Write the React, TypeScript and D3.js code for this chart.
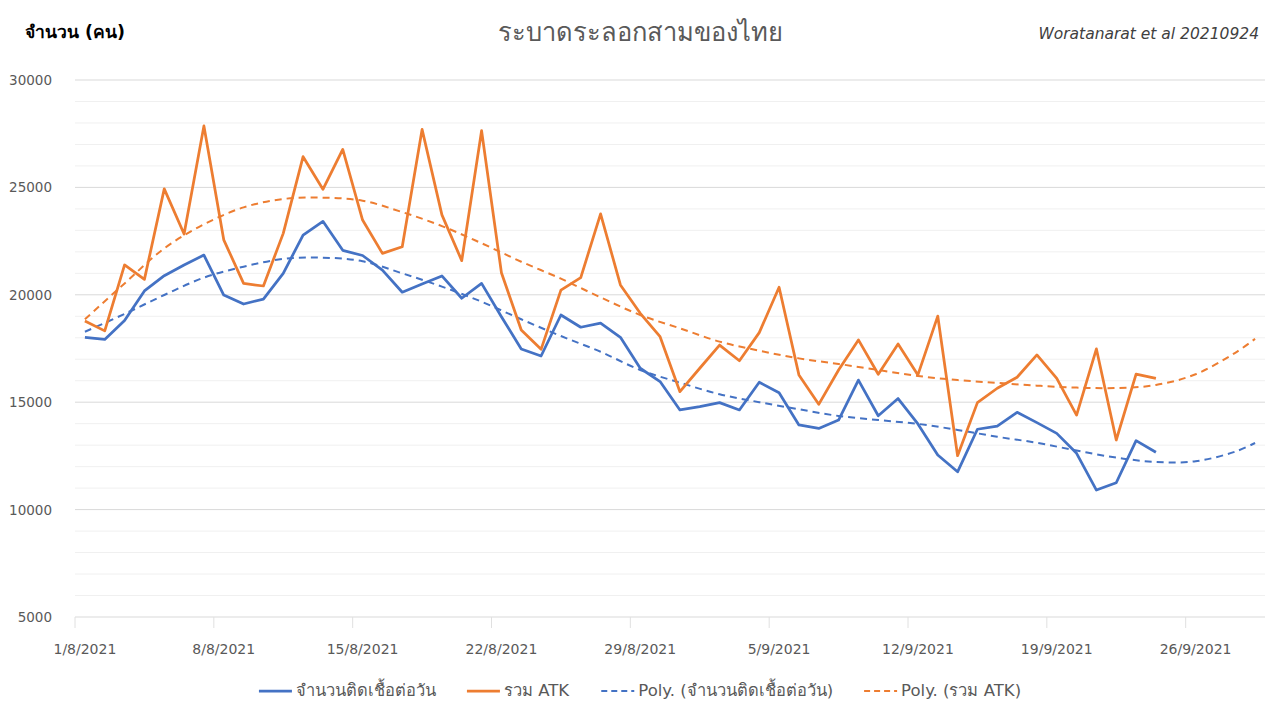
import { useEffect, useRef } from 'react';
import * as d3 from 'd3';

// days since 1/8/2021, daily from 1/8 to 24/9
const infected = [
  18020, 17920, 18800, 20180, 20890, 21390, 21850, 19990, 19570, 19800,
  21000, 22780, 23420, 22070, 21830, 21150, 20120, 20500, 20880, 19840,
  20530, 18980, 17480, 17150, 19060, 18490, 18680, 18020, 16580, 15960,
  14640, 14790, 14980, 14640, 15930, 15440, 13940, 13780, 14170, 16030,
  14370, 15170, 13990, 12540, 11760, 13740, 13890, 14530, 14050, 13550,
  12620, 10910, 11250, 13210, 12670,
];

const atk = [
  18780, 18320, 21390, 20720, 24930, 22830, 27860, 22560, 20530, 20410,
  22860, 26430, 24910, 26770, 23480, 21930, 22240, 27700, 23720, 21590,
  27640, 21030, 18360, 17460, 20220, 20800, 23770, 20460, 19140, 18050,
  15490, 16580, 17660, 16930, 18240, 20350, 16270, 14900, 16500, 17900,
  16300, 17710, 16270, 19010, 12510, 14980, 15650, 16160, 17200, 16110,
  14400, 17480, 13240, 16310, 16110,
];

// polynomial trendlines (day index, value), forecast to 29/9
const trendDays = [0, 2, 4, 6, 8, 10, 12, 14, 16, 18, 20, 22, 24, 26, 28, 30, 32, 34, 36, 38, 40, 42, 44, 46, 48, 50, 52, 54, 56, 58, 59];
const infectedTrend = [
  18280, 19110, 19990, 20800, 21310, 21670, 21730, 21560, 21000, 20380,
  19680, 18860, 18080, 17350, 16500, 15910, 15370, 15000, 14670, 14360,
  14170, 13990, 13710, 13390, 13110, 12750, 12420, 12220, 12250, 12700, 13100,
];
const atkTrend = [
  18860, 20530, 22160, 23280, 24070, 24460, 24520, 24380, 23850, 23200,
  22400, 21540, 20750, 19880, 19060, 18440, 17820, 17400, 17040, 16780,
  16500, 16220, 16030, 15900, 15770, 15680, 15660, 15800, 16300, 17300, 17950,
];

const dayCount = 60; // 1/8 .. 29/9
const tickLabels = ['1/8/2021', '8/8/2021', '15/8/2021', '22/8/2021', '29/8/2021', '5/9/2021', '12/9/2021', '19/9/2021', '26/9/2021'];
const yTicks = [5000, 10000, 15000, 20000, 25000, 30000];

const seriesNames = ['จำนวนติดเชื้อต่อวัน', 'รวม ATK', 'Poly. (จำนวนติดเชื้อต่อวัน)', 'Poly. (รวม ATK)'];
const blue = '#4472C4';
const orange = '#ED7D31';
const font = "'DejaVu Sans', 'Noto Sans', sans-serif";

export default function App() {
  const svgRef = useRef<SVGSVGElement>(null);

  useEffect(() => {
    document.body.style.margin = '0';
    if (!svgRef.current) return;
    const svg = d3.select(svgRef.current);
    svg.selectAll('*').remove();

    const width = 1280;
    const height = 720;
    const left = 75;
    const right = 1265;
    const top = 80;
    const bottom = 617;

    const band = (right - left) / dayCount;
    const x = (d: number) => left + band * (d + 0.5);
    const y = d3.scaleLinear().domain([5000, 30000]).range([bottom, top]);

    svg.attr('width', width).attr('height', height).style('font-family', font);
    svg.append('rect').attr('width', width).attr('height', height).attr('fill', '#fff');

    // gridlines every 1000, darker every 5000
    const grid = d3.range(6000, 30001, 1000);
    svg.append('g')
      .selectAll('line')
      .data(grid)
      .join('line')
      .attr('x1', left)
      .attr('x2', right)
      .attr('y1', (d) => y(d))
      .attr('y2', (d) => y(d))
      .attr('stroke', (d) => (d % 5000 === 0 ? '#d9d9d9' : '#f0f0f0'))
      .attr('stroke-width', 1);

    // x axis
    svg.append('line')
      .attr('x1', left).attr('x2', right)
      .attr('y1', bottom).attr('y2', bottom)
      .attr('stroke', '#d9d9d9');

    const tickDays = d3.range(0, dayCount, 7);
    svg.append('g')
      .selectAll('line')
      .data(tickDays)
      .join('line')
      .attr('x1', (d) => x(d) - band / 2)
      .attr('x2', (d) => x(d) - band / 2)
      .attr('y1', bottom)
      .attr('y2', bottom + 11)
      .attr('stroke', '#e0e0e0');

    svg.append('g')
      .selectAll('text')
      .data(tickDays)
      .join('text')
      .attr('x', (d) => x(d))
      .attr('y', 654)
      .attr('text-anchor', 'middle')
      .attr('font-size', 14)
      .attr('fill', '#595959')
      .text((d, i) => tickLabels[i]);

    // y labels
    svg.append('g')
      .selectAll('text')
      .data(yTicks)
      .join('text')
      .attr('x', 52)
      .attr('y', (d) => y(d) + 5)
      .attr('text-anchor', 'end')
      .attr('font-size', 13.5)
      .attr('fill', '#595959')
      .text((d) => d);

    const line = d3.line<number>().x((d, i) => x(i)).y((d) => y(d));
    const trend = d3.line<number>()
      .x((d, i) => x(trendDays[i]))
      .y((d) => y(d))
      .curve(d3.curveCatmullRom);

    svg.append('path').attr('d', trend(infectedTrend)).attr('fill', 'none')
      .attr('stroke', blue).attr('stroke-width', 2).attr('stroke-dasharray', '7 5');
    svg.append('path').attr('d', trend(atkTrend)).attr('fill', 'none')
      .attr('stroke', orange).attr('stroke-width', 2).attr('stroke-dasharray', '7 5');

    svg.append('path').attr('d', line(infected)).attr('fill', 'none')
      .attr('stroke', blue).attr('stroke-width', 2.75).attr('stroke-linejoin', 'round');
    svg.append('path').attr('d', line(atk)).attr('fill', 'none')
      .attr('stroke', orange).attr('stroke-width', 2.75).attr('stroke-linejoin', 'round');

    // titles
    svg.append('text').attr('x', 25).attr('y', 38)
      .attr('font-size', 17.5).attr('font-weight', 600).attr('fill', '#000')
      .text('จำนวน (คน)');
    svg.append('text').attr('x', 640).attr('y', 41).attr('text-anchor', 'middle')
      .attr('font-size', 25.5).attr('fill', '#595959')
      .text('ระบาดระลอกสามของไทย');
    svg.append('text').attr('x', 1259).attr('y', 39).attr('text-anchor', 'end')
      .attr('font-size', 15.5).attr('font-style', 'italic').attr('fill', '#404040')
      .text('Woratanarat et al 20210924');

    // legend
    const legendStyles = [
      { color: blue, dash: null, w: 2.75 },
      { color: orange, dash: null, w: 2.75 },
      { color: blue, dash: '6 4', w: 2 },
      { color: orange, dash: '6 4', w: 2 },
    ];
    const legend = svg.append('g');
    const items = legend.selectAll('g').data(seriesNames).join('g');
    items.append('line')
      .attr('x1', 0).attr('x2', 33).attr('y1', 0).attr('y2', 0)
      .attr('stroke', (d, i) => legendStyles[i].color)
      .attr('stroke-width', (d, i) => legendStyles[i].w)
      .attr('stroke-dasharray', (d, i) => legendStyles[i].dash);
    items.append('text')
      .attr('x', 37).attr('y', 5)
      .attr('font-size', 16.5).attr('fill', '#595959')
      .text((d) => d);
    const widths: number[] = [];
    items.each(function () {
      widths.push((this as SVGGElement).getBBox().width);
    });
    const gap = 31;
    const total = d3.sum(widths) + gap * (widths.length - 1);
    let cx = 640 - total / 2;
    items.attr('transform', (d, i) => {
      const t = `translate(${cx},691)`;
      cx += widths[i] + gap;
      return t;
    });
  }, []);

  return <svg ref={svgRef} />;
}
